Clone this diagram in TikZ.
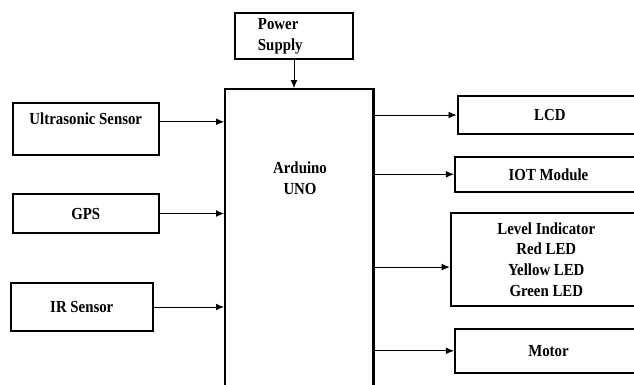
\documentclass[tikz,border=0pt]{standalone}
\usepackage{fontspec}
\setmainfont{Liberation Serif}[FakeStretch=0.88]
\usepackage{tikz}
\usetikzlibrary{arrows.meta}

\begin{document}
\begin{tikzpicture}[
  x=0.025cm, y=-0.025cm,
  font=\fontsize{12}{14.7}\selectfont\bfseries,
  >={Latex[length=2mm,width=1.7mm]},
  every node/.style={align=center},
  box/.style={draw, line width=1.5pt, inner sep=2pt},
  arr/.style={->, line width=0.6pt}
]
\useasboundingbox (0,0) rectangle (634,384);
\clip (0,0) rectangle (634,384);

% supply + controller
\node[box, align=left, text width=1.8cm, inner xsep=0.575cm, minimum height=1.135cm] (pwr) at (294,36) {Power\\Supply};
\node[box, minimum width=3.71cm, minimum height=8.27cm] (ard) at (299.3,254.6) {};
\node (ardtxt) at (300,178.5) {Arduino\\UNO};

% inputs
\node[box, minimum width=3.66cm, minimum height=1.3cm] (ultra) at (85.8,129) {Ultrasonic Sensor\\\mbox{}};
\node[box, minimum width=3.66cm, minimum height=0.975cm] (gps) at (85.8,213.5) {GPS};
\node[box, minimum width=3.56cm, minimum height=1.19cm] (ir) at (81.8,307) {IR Sensor};

% outputs
\node[box, minimum width=4.61cm, minimum height=0.95cm] (lcd) at (549.8,115) {LCD};
\node[box, minimum width=4.675cm, minimum height=0.88cm] (iot) at (548.5,174.3) {IOT Module};
\node[box, minimum width=4.78cm, minimum height=2.325cm] (lvl) at (546.3,259.5) {Level Indicator\\Red LED\\Yellow LED\\Green LED};
\node[box, minimum width=4.675cm, minimum height=1.11cm] (motor) at (548.5,350.8) {Motor};

\coordinate (uin) at ([yshift=0.18cm]ultra.east);
\coordinate (lin) at ([yshift=-0.19cm]lvl.west);

\draw[arr] (pwr.south) -- (pwr.south |- ard.north);
\draw[arr] (uin) -- (uin -| ard.west);
\draw[arr] (gps.east) -- (gps.east -| ard.west);
\draw[arr] (ir.east) -- (ir.east -| ard.west);
\draw[arr] (ard.east |- lcd.west) -- (lcd.west);
\draw[arr] (ard.east |- iot.west) -- (iot.west);
\draw[arr] (lin -| ard.east) -- (lin);
\draw[arr] (ard.east |- motor.west) -- (motor.west);
\end{tikzpicture}
\end{document}
